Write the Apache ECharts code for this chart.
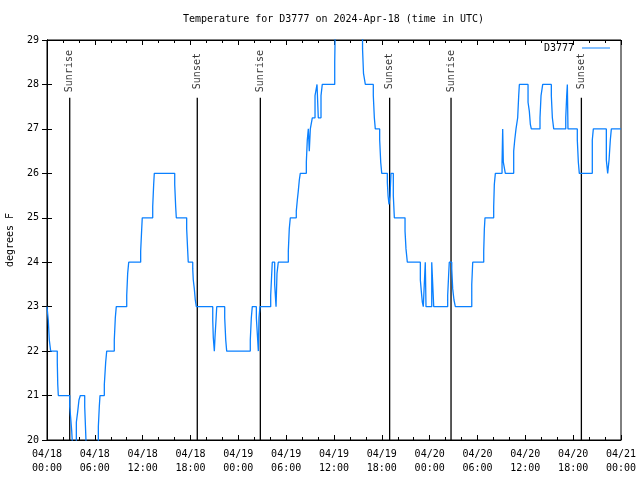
<!DOCTYPE html>
<html><head><meta charset="utf-8">
<script src="https://cdn.jsdelivr.net/npm/echarts@6/dist/echarts.min.js"></script>
<style>html,body{margin:0;padding:0;background:#fff}#c{width:640px;height:480px}</style>
</head><body><div id="c"></div>
<script>
// hours since 04/18 00:00 UTC at which the reading changes
const hours = [0,0.16,0.29,0.46,1.29,1.35,1.42,2.85,2.97,3.10,3.22,3.68,3.85,4.01,4.18,4.73,4.93,6.44,6.56,6.65,
7.19,7.36,7.49,8.44,8.57,8.69,10.00,10.12,10.25,11.75,11.88,11.95,13.26,13.38,13.46,16.02,16.14,16.22,17.52,17.65,17.72,
18.28,18.35,18.48,18.60,18.73,20.79,20.86,20.99,21.07,21.20,21.29,22.29,22.42,22.54,25.50,25.63,25.75,26.26,26.43,26.51,26.59,26.72,
28.06,28.19,28.26,28.56,28.73,28.85,29.01,30.27,30.39,30.52,31.27,31.40,31.52,31.65,31.77,32.53,32.65,32.78,32.90,33.03,
33.28,33.62,33.87,34.03,34.37,34.53,34.78,36.09,36.16,39.58,39.70,39.93,40.93,41.06,41.18,41.73,41.86,41.99,
42.69,42.78,42.90,43.03,43.15,43.44,43.57,44.91,45.03,45.20,46.83,46.95,47.08,47.20,47.45,47.54,48.26,48.51,
50.26,50.39,50.46,50.77,50.89,51.05,51.22,53.28,53.40,54.78,54.86,54.94,56.03,56.11,56.24,57.08,57.16,57.24,57.49,
58.54,58.67,58.83,59.04,59.17,59.25,60.34,60.50,60.63,60.75,61.84,61.97,62.18,63.26,63.39,63.56,65.07,65.19,65.27,65.35,
66.52,66.65,66.77,68.40,68.53,70.16,70.33,70.50,70.66,70.79,72];
// temperature (degrees F) from that hour on
const temps = [23,22.7,22.25,22,21.75,21.25,21,20.75,20.5,20.2,19.8,20.4,20.64,20.9,21,20.75,19.8,20.3,20.75,21,
21.25,21.75,22,22.25,22.75,23,23.25,23.75,24,24.25,24.75,25,25.25,25.75,26,25.75,25.25,25,24.75,24.25,24,
23.85,23.6,23.4,23.15,23,22.7,22.3,22,22.3,22.7,23,22.75,22.25,22,22.25,22.75,23,22.75,22.25,22,22.75,23,
23.25,23.75,24,23.5,23,23.75,24,24.25,24.75,25,25.15,25.4,25.6,25.85,26,26.25,26.75,27,26.5,27,
27.25,27.75,28,27.25,27.75,28,28,28.5,29.3,28.8,28.25,28,27.75,27.25,27,26.75,26.25,26,
25.8,25.5,25.3,25.5,26,25.5,25,24.7,24.3,24,23.6,23.35,23.1,23,24,23,24,23,
23.25,23.75,24,23.85,23.4,23.15,23,23.5,24,24.25,24.75,25,25.25,25.75,26,26.25,27,26.25,26,
26.5,26.75,27,27.25,27.75,28,27.6,27.4,27.1,27,27.25,27.75,28,27.75,27.25,27,27.25,27.75,28,27,
26.75,26.25,26,26.75,27,26.3,26,26.3,26.75,27,27];
const sunTimes = [2.85, 18.85, 26.76, 42.98, 50.68, 67.03];
const sunLabels = ['Sunrise','Sunset','Sunrise','Sunset','Sunrise','Sunset'];
const dayLabels = ['04/18','04/19','04/20','04/21'];
const yTicks = [20,21,22,23,24,25,26,27,28,29];

const FONT = 'DejaVu Sans Mono';
const tempData = hours.map((h,i)=>[h,temps[i]]);
const SUN_TOP = 27.7, SUN_LABEL = 28.3;

function xfmt(v){
  const d = Math.floor(v/24), h = Math.round(v - d*24);
  return dayLabels[d] + '\n' + String(h).padStart(2,'0') + ':00';
}

const series = [{
  name:'D3777', type:'line', step:'end', data: tempData, symbol:'none',
  lineStyle:{color:'#0a80ff', width:1.3}, itemStyle:{color:'#0a80ff'}, clip:true, z:3
}];
sunTimes.forEach((t,i)=>{
  series.push({type:'line', data:[[t,20],[t,SUN_TOP]], symbol:'none',
    lineStyle:{color:'#000',width:1.3}, silent:true, z:2});
});
series.push({type:'scatter', symbolSize:0, silent:true,
  data: sunTimes.map((t,i)=>({value:[t,SUN_LABEL], name:sunLabels[i]})),
  label:{show:true, position:'inside', rotate:90, formatter:p=>p.name,
    fontFamily:FONT, fontSize:10, color:'#000'}});

const chart = echarts.init(document.getElementById('c'), null, {renderer:'canvas'});
chart.setOption({
  animation:false,
  backgroundColor:'#fff',
  title:{text:'Temperature for D3777 on 2024-Apr-18 (time in UTC)', left:183, top:14, padding:0,
    textStyle:{fontFamily:FONT, fontSize:10, fontWeight:'normal', color:'#000'}},
  legend:{data:['D3777'], right:30, top:43, align:'right', icon:'rect', itemWidth:28, itemHeight:1,
    itemGap:0, padding:0, textStyle:{fontFamily:FONT, fontSize:10, color:'#000', padding:[0,3,0,0]}},
  grid:{left:47, right:19, top:40, bottom:40, show:true, borderColor:'#000', borderWidth:1,
    containLabel:false, outerBoundsMode:'none'},
  xAxis:[{type:'value', min:0, max:72, interval:6,
    axisLine:{lineStyle:{color:'#000'}},
    axisTick:{inside:true, length:5, lineStyle:{color:'#000'}},
    minorTick:{show:true, splitNumber:3, length:3, lineStyle:{color:'#000'}},
    splitLine:{show:false},
    axisLabel:{formatter:xfmt, fontFamily:FONT, fontSize:10, color:'#000', margin:7, lineHeight:14, showMinLabel:true, showMaxLabel:true}},
   {type:'value', position:'top', min:0, max:72, interval:6,
    axisLine:{lineStyle:{color:'#000'}},
    axisTick:{inside:true, length:5, lineStyle:{color:'#000'}},
    minorTick:{show:true, splitNumber:3, length:3, lineStyle:{color:'#000'}},
    splitLine:{show:false}, axisLabel:{show:false}}],
  yAxis:[{type:'value', min:yTicks[0], max:yTicks[yTicks.length-1], interval:1,
    name:'degrees F', nameLocation:'middle', nameRotate:90, nameGap:32,
    nameTextStyle:{fontFamily:FONT, fontSize:10, color:'#000'},
    axisLine:{show:true, lineStyle:{color:'#000'}},
    axisTick:{show:true, inside:true, length:5, lineStyle:{color:'#000'}},
    splitLine:{show:false},
    axisLabel:{fontFamily:FONT, fontSize:10, color:'#000', margin:8}},
   {type:'value', position:'right', min:yTicks[0], max:yTicks[yTicks.length-1], interval:1,
    axisLine:{show:true, lineStyle:{color:'#000'}},
    axisTick:{show:true, inside:true, length:5, lineStyle:{color:'#000'}},
    splitLine:{show:false}, axisLabel:{show:false}}],
  series: series
});
</script></body></html>
